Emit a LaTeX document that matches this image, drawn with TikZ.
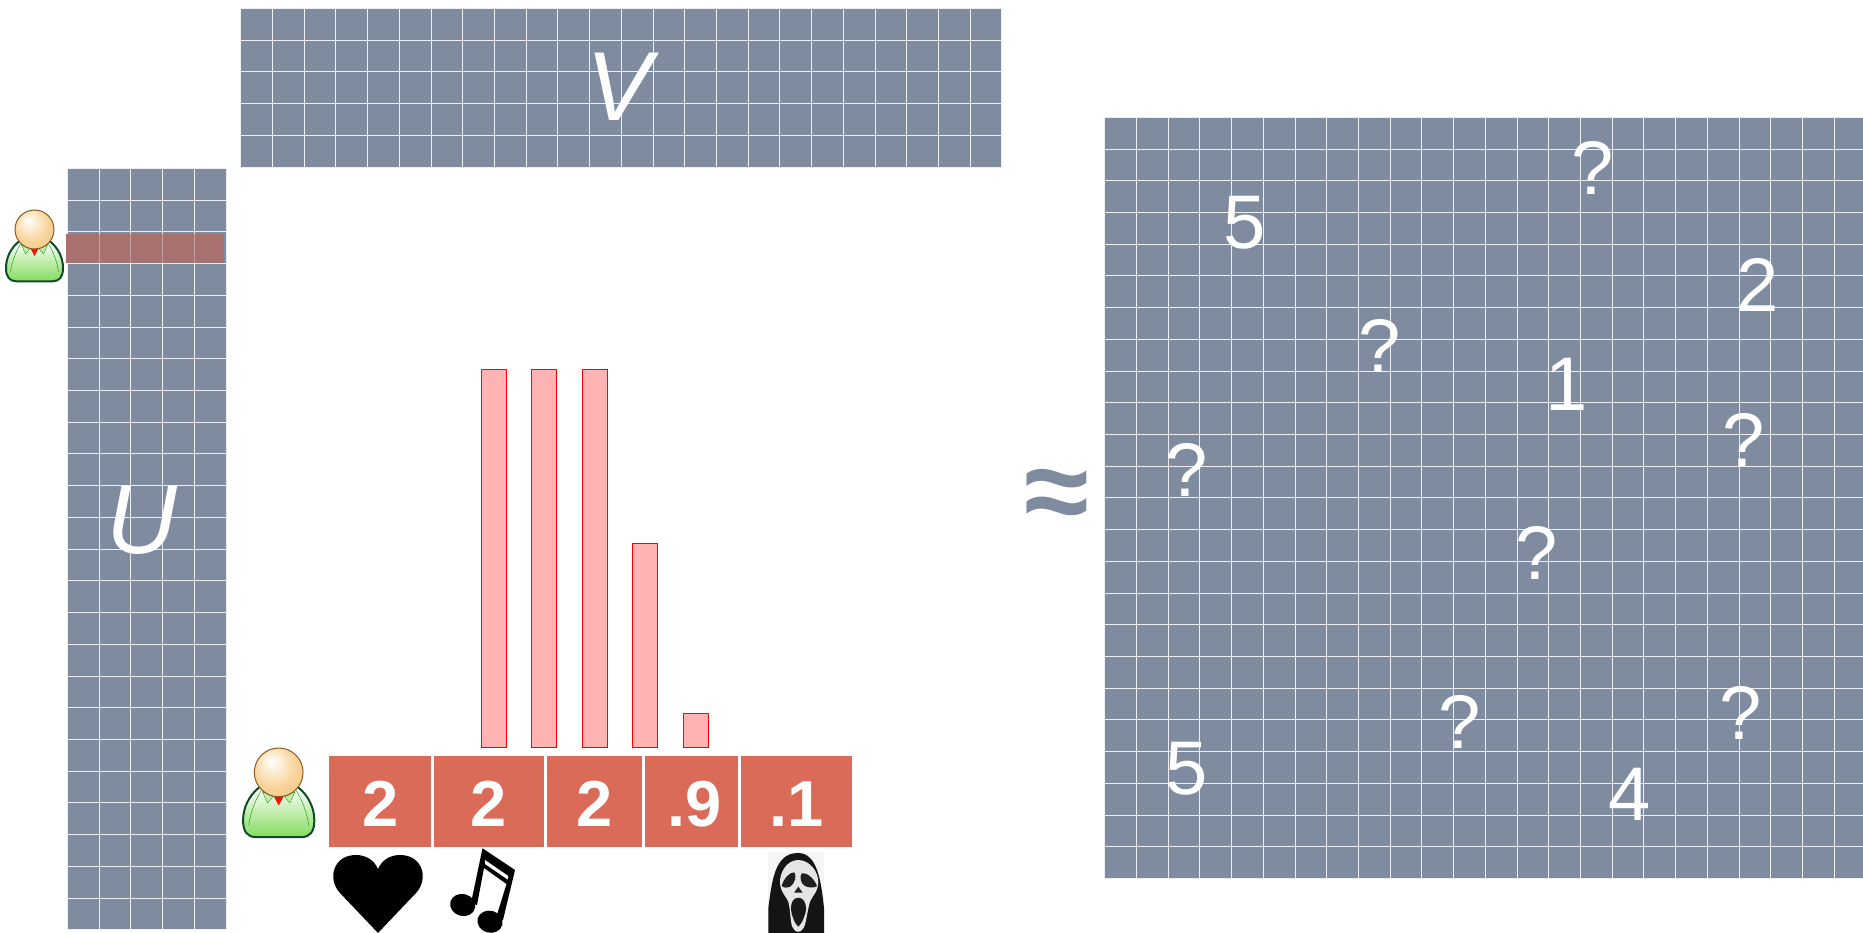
\documentclass[tikz,border=0pt]{standalone}
\usepackage{fontspec}
\setmainfont{Liberation Sans}
\usepackage{tikz}
\definecolor{gridgray}{HTML}{7F8CA0}
\definecolor{cellred}{HTML}{D96B58}
\definecolor{rowred}{HTML}{A97070}
\definecolor{barpink}{HTML}{FFB3B3}
\definecolor{bodydark}{HTML}{0E4A2C}
\definecolor{bodymid}{HTML}{C0EFAA}
\definecolor{bodylow}{HTML}{84DB5C}
\definecolor{headedge}{HTML}{8C5A22}
\definecolor{headtan}{HTML}{F8D49A}
\definecolor{headlow}{HTML}{F0BC74}
\pgfdeclareradialshading{headball}{\pgfpoint{-8bp}{12bp}}{color(0bp)=(white); color(22bp)=(headtan); color(45bp)=(headlow); color(50bp)=(headlow)}
\tikzstyle{biglabel} = [text=white, inner sep=0pt, font=\fontsize{76}{76}\selectfont]
\tikzstyle{axislabel} = [text=white, inner sep=0pt, font=\fontsize{98}{98}\selectfont\itshape]
\tikzstyle{valuecell} = [rectangle, anchor=north west, inner sep=0pt, minimum height=91pt, text height=50pt, text depth=0pt, fill=cellred, text=white, font=\fontsize{65}{65}\selectfont\bfseries]
\tikzstyle{bar} = [fill=barpink, draw=red, line width=0.8pt]
\newcommand{\gridblock}[5]{%
  \fill [gridgray] (#1,#2) rectangle ({#1+#3*31.72},{#2+#4*31.72});
  \foreach \i in {0,...,#3} \draw [white!85!gridgray, line width=#5] ({#1+\i*31.72},#2) -- ({#1+\i*31.72},{#2+#4*31.72});
  \foreach \j in {0,...,#4} \draw [white!85!gridgray, line width=#5] (#1,{#2+\j*31.72}) -- ({#1+#3*31.72},{#2+\j*31.72});
}
\newcommand{\person}[3]{%
  \begin{scope}[shift={(#1,#2)}, scale=#3]
    \draw [line width=2pt, draw=bodydark, top color=white, middle color=bodymid, bottom color=bodylow]
      (-15,31) .. controls (-24,38) and (-28.5,48) .. (-28.5,58) .. controls (-28.5,67) and (-25,71.3) .. (-18,71.3)
      -- (18,71.3) .. controls (25,71.3) and (28.5,67) .. (28.5,58) .. controls (28.5,48) and (24,38) .. (15,31) -- cycle;
    \draw [green!60!black, line width=0.4pt] (-14,34) .. controls (-20,44) and (-23,54) .. (-24,62);
    \draw [green!60!black, line width=0.4pt] (14,34) .. controls (20,44) and (23,54) .. (24,62);
    \draw [fill=bodymid, draw=green!55!black, line width=0.3pt] (-13,35) -- (-4.6,39) -- (-9,44) -- cycle;
    \draw [fill=bodymid, draw=green!55!black, line width=0.3pt] (13,35) -- (4.6,39) -- (9,44) -- cycle;
    \fill [red!90!orange] (-4.8,37) -- (4.8,37) -- (0,46) -- cycle;
    \shade [shading=headball, draw=headedge, line width=1pt] (0,19.5) circle (19.5);
  \end{scope}
}
\begin{document}
\begin{tikzpicture}[x=1pt, y=-1pt]
  \useasboundingbox (0,0) rectangle (1863,933);
  \clip (0,0) rectangle (1863,933);

  % Matrices
  \gridblock{240.7}{8.5}{24}{5}{1pt}
  \gridblock{67.5}{168.5}{5}{24}{1pt}
  \gridblock{1104.7}{117.3}{24}{24}{1pt}
  \fill [rowred] (66,234) rectangle (224,263.5);
  \foreach \i in {1,2,3,4} \draw [white, opacity=0.35, line width=0.9pt] ({67.5+\i*31.72},234) -- ({67.5+\i*31.72},263.5);

  \node (vlabel) [axislabel] at (619,87) {V};
  \node (ulabel) [axislabel] at (142,520) {U};
  \node (approx) [text=gridgray, inner sep=0pt, font=\fontsize{118}{118}\selectfont\bfseries] at (1057,500) {≈};

  % Ratings
  \node (r1) [biglabel] at (1245,223) {5};
  \node (r2) [biglabel] at (1593,168) {?};
  \node (r3) [biglabel] at (1758,285) {2};
  \node (r4) [biglabel] at (1380,346) {?};
  \node (r5) [biglabel] at (1567,384) {1};
  \node (r6) [biglabel] at (1744,440) {?};
  \node (r7) [biglabel] at (1187,470) {?};
  \node (r8) [biglabel] at (1537,553) {?};
  \node (r9) [biglabel] at (1741,713) {?};
  \node (r10) [biglabel] at (1460,722) {?};
  \node (r11) [biglabel] at (1187,769) {5};
  \node (r12) [biglabel] at (1630,794) {4};

  % Singular values
  \node (c1) [valuecell, minimum width=102pt] at (329,756) {2};
  \node (c2) [valuecell, minimum width=110pt] at (433.5,756) {2};
  \node (c3) [valuecell, minimum width=95pt] at (546.5,756) {2};
  \node (c4) [valuecell, minimum width=93pt] at (645,756) {\hspace{5pt}.9};
  \node (c5) [valuecell, minimum width=111pt] at (741,756) {.1};

  \draw [bar] (481,369.5) rectangle (506,747);
  \draw [bar] (531.5,369.5) rectangle (556.5,747);
  \draw [bar] (582,369.5) rectangle (607,747);
  \draw [bar] (632.5,543) rectangle (657.5,747);
  \draw [bar] (683,713.5) rectangle (708,747);

  \person{34.5}{210}{1}
  \person{278.7}{748}{1.25}

  % Heart
  \fill [black] (378,933) -- (340,893) .. controls (327,879) and (333,855) .. (356,855)
    .. controls (366,855) and (374,860) .. (378,869) .. controls (382,860) and (390,855) .. (400,855)
    .. controls (423,855) and (429,879) .. (416,893) -- cycle;

  % Notes
  \fill [black] (482.5,848.3) -- (515,870) -- (503,920) -- (496,918) -- (506.5,884) -- (484,868) -- (477,905) -- (471,903) -- cycle;
  \fill [white] (485,860) -- (508.3,876) -- (507.7,879.5) -- (485,864) -- cycle;
  \fill [black, rotate around={-15:(462.7,905)}] (462.7,905) ellipse (12.7 and 11);
  \fill [black, rotate around={-15:(490,921.7)}] (490,921.7) ellipse (12.7 and 11);

  % Mask
  \fill [black!4] (768.3,852.3) rectangle (824,933);
  \fill [black!92] (768.3,933) -- (768.3,908) .. controls (772,880) and (775,853) .. (798,853)
    .. controls (817,853) and (821,880) .. (824,908) -- (824,933) -- cycle;
  \fill [black!10] (798.3,860) .. controls (787,860) and (780,872) .. (780,881.7)
    .. controls (780,892) and (786,896) .. (788.3,901.7) .. controls (791,912) and (790,925) .. (793.3,928.3)
    .. controls (795,933) and (801,933) .. (803.3,928.3) .. controls (806,925) and (807,912) .. (810,901.7)
    .. controls (812,896) and (818.3,892) .. (818.3,881.7) .. controls (818.3,872) and (810,860) .. (798.3,860) -- cycle;
  \fill [black!88] (781.7,885.7) .. controls (784,878) and (790,872) .. (794.3,872.3)
    .. controls (797,875) and (795,884) .. (790,886.7) .. controls (787,888) and (783,888) .. (781.7,885.7) -- cycle;
  \fill [black!88] (817,886) .. controls (814,878) and (806,872) .. (801.7,873.3)
    .. controls (799,877) and (801,884) .. (805,886) .. controls (809,888) and (815,888) .. (817,886) -- cycle;
  \fill [black!88] (798.3,886.7) -- (794,892.7) -- (802.7,892.7) -- cycle;
  \fill [black!90] (798.3,897.7) .. controls (793,897.7) and (791,903) .. (791,908.3)
    .. controls (791,915) and (795,924) .. (798.3,926.7) .. controls (801.5,924) and (806,915) .. (806,908.3)
    .. controls (806,903) and (803.5,897.7) .. (798.3,897.7) -- cycle;
\end{tikzpicture}
\end{document}
